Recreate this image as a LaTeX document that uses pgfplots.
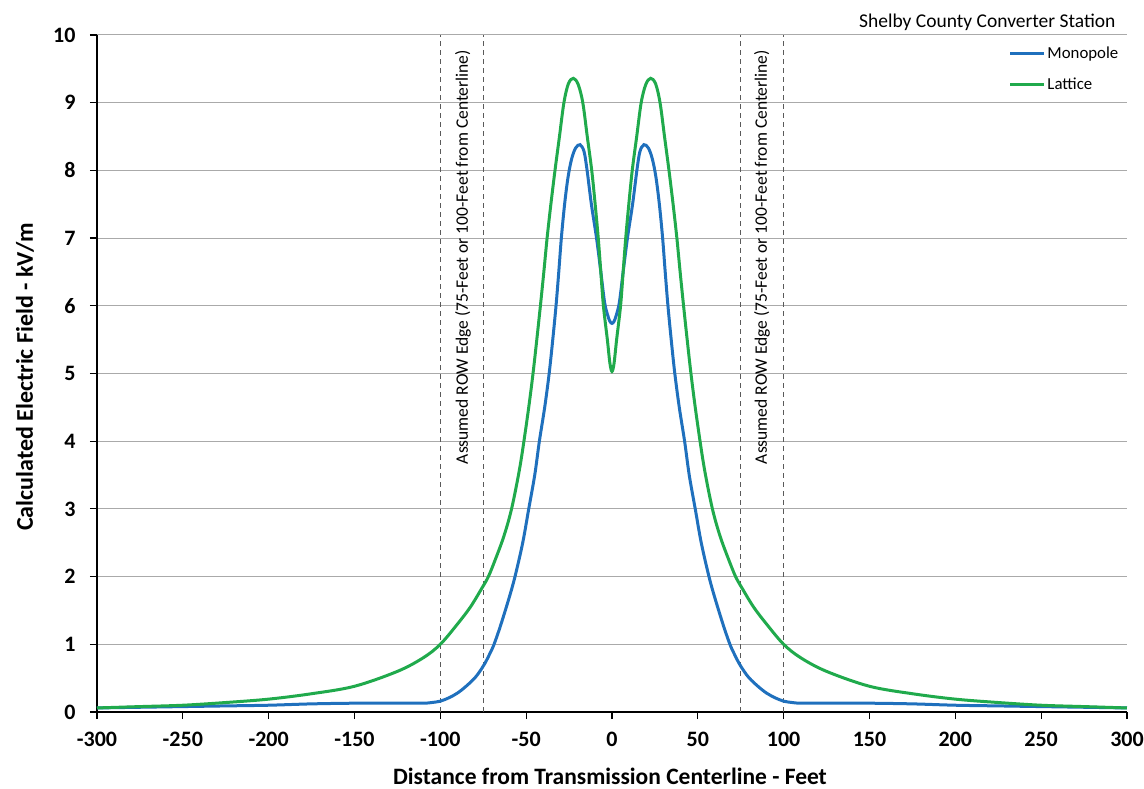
\documentclass[border=0pt]{standalone}
\usepackage{fontspec}
\setmainfont{Carlito}
\usepackage{pgfplots}
\pgfplotsset{compat=1.18}
\definecolor{mono}{RGB}{31,112,189}
\definecolor{latt}{RGB}{32,170,76}
\definecolor{gridc}{RGB}{170,170,170}
\definecolor{dashc}{RGB}{90,90,90}
\pgfplotstableread{
x y
-300 0.06
-275 0.07
-250 0.08
-225 0.09
-200 0.10
-175 0.12
-150 0.13
-125 0.13
-110 0.13
-105 0.14
-100 0.16
-95 0.21
-90 0.28
-85 0.38
-80 0.50
-77 0.60
-74 0.72
-71 0.87
-68.7 1.0
-65 1.27
-60 1.68
-56.5 2.0
-52 2.5
-48.5 3.0
-45 3.5
-42.3 4.0
-39.2 4.5
-36.6 5.0
-34.5 5.5
-32.6 6.0
-31 6.5
-29.5 7.0
-27.6 7.5
-25.6 7.9
-23.5 8.17
-21.2 8.33
-18.6 8.38
-16.3 8.28
-14.6 8.02
-12.0 7.5
-9.0 7.0
-6.5 6.5
-4.3 6.05
-2.5 5.86
-1.2 5.77
0 5.74
1.2 5.77
2.5 5.86
4.3 6.05
6.5 6.5
9.0 7.0
12.0 7.5
14.6 8.02
16.3 8.28
18.6 8.38
21.2 8.33
23.5 8.17
25.6 7.9
27.6 7.5
29.5 7.0
31 6.5
32.6 6.0
34.5 5.5
36.6 5.0
39.2 4.5
42.3 4.0
45 3.5
48.5 3.0
52 2.5
56.5 2.0
60 1.68
65 1.27
68.7 1.0
71 0.87
74 0.72
77 0.60
80 0.50
85 0.38
90 0.28
95 0.21
100 0.16
105 0.14
110 0.13
125 0.13
150 0.13
175 0.12
200 0.10
225 0.09
250 0.08
275 0.07
300 0.06
}\monotab
\pgfplotstableread{
x y
-300 0.06
-275 0.08
-250 0.10
-225 0.14
-200 0.19
-175 0.27
-150 0.38
-125 0.60
-110 0.80
-100 1.00
-90 1.30
-82.5 1.55
-76 1.82
-72 2.0
-68 2.25
-64 2.52
-61 2.76
-58.5 3.0
-56 3.3
-53.5 3.64
-51.3 4.0
-48.5 4.5
-46 5.0
-43.8 5.5
-41.7 6.0
-39.7 6.5
-37.8 7.0
-35.6 7.5
-33.2 8.0
-30.6 8.5
-28 9.0
-25.4 9.28
-22.5 9.36
-19.7 9.27
-17 9.0
-14.4 8.5
-11.8 8.0
-9.8 7.5
-8.0 7.0
-6.5 6.5
-5.0 6.0
-2.7 5.5
-1.2 5.15
0 5.03
1.2 5.15
2.7 5.5
5.0 6.0
6.5 6.5
8.0 7.0
9.8 7.5
11.8 8.0
14.4 8.5
17 9.0
19.7 9.27
22.5 9.36
25.4 9.28
28 9.0
30.6 8.5
33.2 8.0
35.6 7.5
37.8 7.0
39.7 6.5
41.7 6.0
43.8 5.5
46 5.0
48.5 4.5
51.3 4.0
53.5 3.64
56 3.3
58.5 3.0
61 2.76
64 2.52
68 2.25
72 2.0
76 1.82
82.5 1.55
90 1.30
100 1.00
110 0.80
125 0.60
150 0.38
175 0.27
200 0.19
225 0.14
250 0.10
275 0.08
300 0.06
}\lattab
\begin{document}
\begin{tikzpicture}
\useasboundingbox (-97pt,-76pt) rectangle (1047pt,712pt);
\begin{axis}[
  at={(0pt,0pt)}, anchor=south west,
  width=1030pt, height=677pt, scale only axis,
  xmin=-300, xmax=300, ymin=0, ymax=10,
  clip=false,
  axis lines*=left,
  axis line style={black, line width=1.3pt},
  xtick={-300,-250,-200,-150,-100,-50,0,50,100,150,200,250,300},
  xticklabels={-300,-250,-200,-150,-100,-50,0,50,100,150,200,250,300},
  ytick={0,1,2,3,4,5,6,7,8,9,10},
  yticklabels={0,1,2,3,4,5,6,7,8,9,10},
  tick align=outside,
  major tick length=7pt,
  tick style={black, line width=1.2pt},
  ymajorgrids, grid style={gridc, line width=1pt},
  ticklabel style={font=\fontsize{22}{26}\selectfont\bfseries},
  xticklabel style={yshift=-10pt},
  yticklabel style={xshift=-11pt},
  legend style={draw=none, fill=none, font=\fontsize{16.8}{20}\selectfont,
    at={(1,1)}, anchor=north east, xshift=-7pt, yshift=-10pt,
    row sep=15pt, inner sep=0pt, nodes={inner sep=1.5pt}},
  legend cell align=left,
  legend image code/.code={\draw[#1, line width=3pt] (0pt,0pt) -- (34pt,0pt);},
]
\addplot[forget plot, dashc, line width=1.2pt, dash pattern=on 5pt off 4pt] coordinates {(-100,0) (-100,10)};
\addplot[forget plot, dashc, line width=1.2pt, dash pattern=on 5pt off 4pt] coordinates {(-75,0) (-75,10)};
\addplot[forget plot, dashc, line width=1.2pt, dash pattern=on 5pt off 4pt] coordinates {(75,0) (75,10)};
\addplot[forget plot, dashc, line width=1.2pt, dash pattern=on 5pt off 4pt] coordinates {(100,0) (100,10)};
\addplot[mono, line width=3pt, smooth, tension=0.55] table[x=x,y=y] {\monotab};
\addlegendentry{Monopole}
\addplot[latt, line width=3pt, smooth, tension=0.55] table[x=x,y=y] {\lattab};
\addlegendentry{Lattice}
\node[rotate=90, font=\fontsize{17.5}{20}\selectfont] at (axis cs:-86.8,6.72) {Assumed ROW Edge (75-Feet or 100-Feet from Centerline)};
\node[rotate=90, font=\fontsize{17.5}{20}\selectfont] at (axis cs:87.4,6.72) {Assumed ROW Edge (75-Feet or 100-Feet from Centerline)};
\end{axis}
\node[anchor=base east, font=\fontsize{19.5}{22}\selectfont] at (1022pt,684pt) {Shelby County Converter Station};
\node[anchor=base, font=\fontsize{23.5}{26}\selectfont\bfseries] at (513pt,-72pt) {Distance from Transmission Centerline - Feet};
\node[rotate=90, font=\fontsize{24}{28}\selectfont\bfseries] at (-72pt,335pt) {Calculated Electric Field - kV/m};
\end{tikzpicture}
\end{document}
